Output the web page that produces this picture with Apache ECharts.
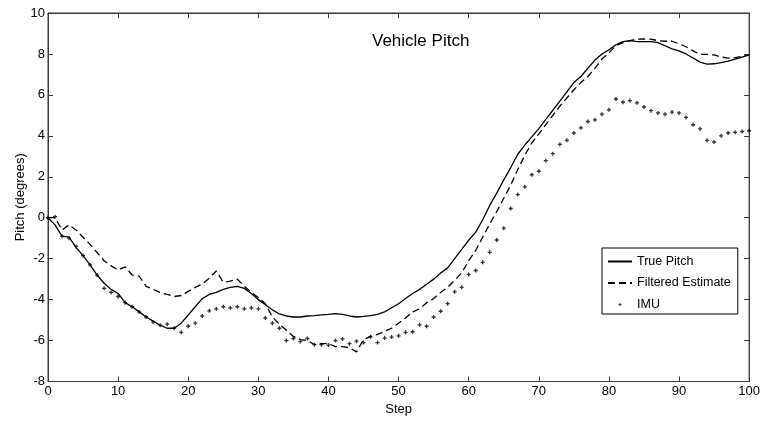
<!DOCTYPE html>
<html>
<head>
<meta charset="utf-8">
<title>Vehicle Pitch</title>
<script src="https://cdn.jsdelivr.net/npm/echarts@6/dist/echarts.min.js"></script>
<style>
  html, body { margin: 0; padding: 0; background: #fff; }
  #chart { width: 763px; height: 421px; }
</style>
</head>
<body>
<div id="chart"></div>
<script>
// Pitch angle (degrees) for steps 0..100
const truePitch = [
  0, -0.35, -0.9, -0.95, -1.45, -1.85, -2.3, -2.8, -3.2, -3.5,
  -3.7, -4.15, -4.35, -4.6, -4.85, -5.05, -5.25, -5.4, -5.4, -5.15,
  -4.75, -4.35, -3.95, -3.75, -3.65, -3.5, -3.4, -3.35, -3.45, -3.7,
  -4.0, -4.25, -4.5, -4.7, -4.8, -4.85, -4.85, -4.8, -4.78, -4.75,
  -4.72, -4.68, -4.72, -4.8, -4.85, -4.82, -4.78, -4.72, -4.6, -4.4,
  -4.2, -3.95, -3.7, -3.5, -3.25, -3.0, -2.7, -2.45, -2.0, -1.55,
  -1.1, -0.7, -0.1, 0.6, 1.2, 1.85, 2.45, 3.1, 3.55, 3.95,
  4.35, 4.8, 5.25, 5.7, 6.15, 6.6, 6.9, 7.3, 7.7, 8.0,
  8.2, 8.45, 8.6, 8.65, 8.6, 8.6, 8.6, 8.55, 8.4, 8.25,
  8.15, 8.0, 7.8, 7.6, 7.5, 7.52, 7.58, 7.65, 7.75, 7.85,
  7.95
];

const filteredEstimate = [
  0, 0.0, -0.6, -0.35, -0.6, -0.95, -1.3, -1.7, -2.1, -2.35,
  -2.55, -2.4, -2.8, -2.85, -3.35, -3.5, -3.65, -3.75, -3.85, -3.8,
  -3.6, -3.4, -3.25, -2.95, -2.6, -3.15, -3.1, -3.0, -3.35, -3.65,
  -3.9, -4.2, -4.85, -5.2, -5.5, -5.8, -5.95, -6.0, -6.2, -6.15,
  -6.15, -6.3, -6.3, -6.35, -6.55, -5.95, -5.8, -5.7, -5.55, -5.4,
  -5.15, -4.9, -4.6, -4.45, -4.15, -3.95, -3.65, -3.4, -3.05, -2.7,
  -2.1, -1.6, -0.95, -0.3, 0.3, 0.95, 1.6, 2.35, 3.05, 3.65,
  4.1, 4.55, 5.0, 5.45, 5.85, 6.25, 6.6, 6.9, 7.3, 7.75,
  8.05, 8.4, 8.55, 8.65, 8.72, 8.73, 8.72, 8.65, 8.62, 8.62,
  8.5, 8.35, 8.15, 7.98, 7.98, 7.95, 7.85, 7.8, 7.82, 7.88,
  7.95
];

const imu = [
  0, 0.05, -0.9, -1.0, -1.4, -1.85, -2.3, -2.8, -3.45, -3.65,
  -3.85, -4.15, -4.35, -4.6, -4.85, -5.1, -5.25, -5.2, -5.4, -5.6,
  -5.3, -5.15, -4.8, -4.55, -4.45, -4.35, -4.4, -4.35, -4.45, -4.4,
  -4.45, -4.9, -5.15, -5.4, -6.0, -5.9, -6.05, -5.9, -6.2, -6.2,
  -6.22, -6.0, -5.92, -6.15, -6.03, -6.1, -5.82, -6.1, -5.88, -5.83,
  -5.77, -5.6, -5.57, -5.23, -5.3, -4.85, -4.57, -4.2, -3.62, -3.4,
  -2.77, -2.58, -2.18, -1.69, -1.09, -0.51, 0.45, 1.13, 1.51, 2.1,
  2.27, 2.79, 3.13, 3.58, 3.78, 4.14, 4.39, 4.7, 4.78, 5.06,
  5.27, 5.8, 5.64, 5.72, 5.61, 5.41, 5.23, 5.12, 5.06, 5.16,
  5.12, 4.9, 4.54, 4.34, 3.78, 3.7, 4.0, 4.14, 4.17, 4.21,
  4.25
];

const seriesNames = ['True Pitch', 'Filtered Estimate', 'IMU'];
const xTicks = { min: 0, max: 100, interval: 10 };
const yTicks = { min: -8, max: 10, interval: 2 };

const FONT = '"Liberation Sans", Arial, Helvetica, sans-serif';
const frameColor = '#3a3a3a';
// small plus-shaped marker for the IMU samples
const plusMarker = 'path://M1,0h1v1h1v1h-1v1h-1v-1h-1v-1h1z';

function withStep(values) {
  return values.map((v, i) => [i, v]);
}

const tickStyle = { show: true, inside: true, length: 5, lineStyle: { color: frameColor, width: 1 } };
const frameLine = { show: true, onZero: false, lineStyle: { color: frameColor, width: 1 } };

const chart = echarts.init(document.getElementById('chart'), null, { renderer: 'canvas' });

chart.setOption({
  animation: false,
  backgroundColor: '#ffffff',
  textStyle: { fontFamily: FONT },
  title: {
    text: 'Vehicle Pitch',
    left: 372,
    top: 32.5,
    padding: 0,
    textStyle: { fontFamily: FONT, fontSize: 17, fontWeight: 'normal', color: '#000' }
  },
  grid: {
    left: 48, right: 12, top: 13, bottom: 38,
    show: true, borderColor: frameColor, borderWidth: 1, backgroundColor: 'transparent'
  },
  legend: {
    orient: 'vertical',
    left: 602,
    top: 248,
    padding: [7, 7, 3, 5],
    itemGap: 8.5,
    itemWidth: 24,
    itemHeight: 3,
    borderColor: '#000',
    borderWidth: 1,
    backgroundColor: '#fff',
    textStyle: { fontFamily: FONT, fontSize: 12.5, color: '#000' },
    data: [
      { name: seriesNames[0], itemStyle: { opacity: 0 } },
      { name: seriesNames[1], itemStyle: { opacity: 0 } },
      { name: seriesNames[2] }
    ]
  },
  xAxis: [
    {
      type: 'value', position: 'bottom',
      min: xTicks.min, max: xTicks.max, interval: xTicks.interval,
      name: 'Step', nameLocation: 'middle', nameGap: 21.5, nameMoveOverlap: false,
      nameTextStyle: { fontFamily: FONT, fontSize: 13, color: '#000' },
      axisLine: frameLine,
      axisTick: tickStyle,
      axisLabel: { margin: 3.5, fontFamily: FONT, fontSize: 13, color: '#000' },
      splitLine: { show: false }
    },
    {
      type: 'value', position: 'top',
      min: xTicks.min, max: xTicks.max, interval: xTicks.interval,
      axisLine: frameLine,
      axisTick: tickStyle,
      axisLabel: { show: false },
      splitLine: { show: false }
    }
  ],
  yAxis: [
    {
      type: 'value', position: 'left',
      min: yTicks.min, max: yTicks.max, interval: yTicks.interval,
      name: 'Pitch (degrees)', nameLocation: 'middle', nameGap: 21, nameRotate: 90, nameMoveOverlap: false,
      nameTextStyle: { fontFamily: FONT, fontSize: 13, color: '#000' },
      axisLine: frameLine,
      axisTick: tickStyle,
      axisLabel: { margin: 3, fontFamily: FONT, fontSize: 13, color: '#000' },
      splitLine: { show: false }
    },
    {
      type: 'value', position: 'right',
      min: yTicks.min, max: yTicks.max, interval: yTicks.interval,
      axisLine: frameLine,
      axisTick: tickStyle,
      axisLabel: { show: false },
      splitLine: { show: false }
    }
  ],
  series: [
    {
      name: seriesNames[0],
      type: 'line',
      xAxisIndex: 0, yAxisIndex: 0,
      data: withStep(truePitch),
      symbol: 'none',
      lineStyle: { color: '#000', width: 1.3, type: 'solid' },
      itemStyle: { color: '#000' },
      z: 3
    },
    {
      name: seriesNames[1],
      type: 'line',
      xAxisIndex: 0, yAxisIndex: 0,
      data: withStep(filteredEstimate),
      symbol: 'none',
      lineStyle: { color: '#000', width: 1.3, type: [7, 4] },
      itemStyle: { color: '#000' },
      z: 3
    },
    {
      name: seriesNames[2],
      type: 'scatter',
      xAxisIndex: 0, yAxisIndex: 0,
      data: withStep(imu),
      symbol: plusMarker,
      symbolSize: 4,
      itemStyle: { color: '#000' },
      z: 4
    }
  ]
});
</script>
</body>
</html>
